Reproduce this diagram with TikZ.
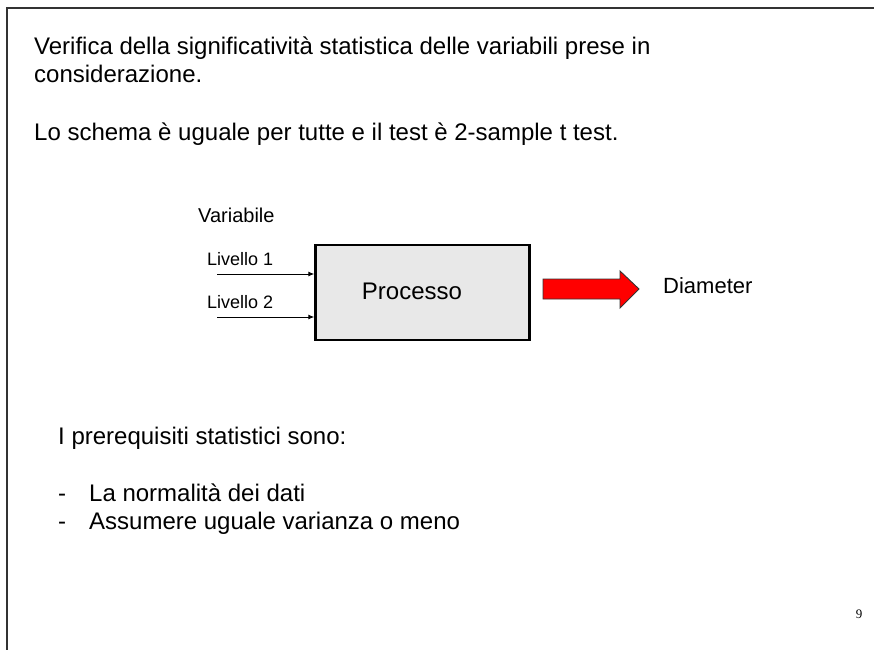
\documentclass[tikz,border=0pt]{standalone}
\usepackage{fontspec}
\setmainfont{Liberation Sans}
\newfontfamily\numfont{Liberation Serif}
\usetikzlibrary{arrows.meta}
\begin{document}
\begin{tikzpicture}[x=1pt,y=-1pt,
  txt/.style={anchor=base west,inner sep=0pt,font=\fontsize{24}{28}\selectfont},
  small/.style={anchor=base west,inner sep=0pt,font=\fontsize{18}{21}\selectfont},
  inarrow/.style={-{Latex[length=6pt,width=5pt]},line width=1pt},
  framel/.style={line width=1.8pt,draw=black!80}]
\useasboundingbox (0,0) rectangle (874,650);
\coordinate (tl) at (7,8);
\coordinate (tr) at (874,8);
\coordinate (bl) at (7,650);
\draw[framel] (tr) -- (tl) -- (bl);
\node[txt] (t1) at (34,55) {Verifica della significatività statistica delle variabili prese in};
\node[txt] (t2) at (34,83) {considerazione.};
\node[txt] (t3) at (34,140) {Lo schema è uguale per tutte e il test è 2-sample t test.};
\node[anchor=base west,inner sep=0pt,font=\fontsize{20}{24}\selectfont] (var) at (198,222) {Variabile};
\node[draw=black,line width=2.4pt,fill=black!9,minimum width=214pt,minimum height=95pt,inner sep=0pt] (proc) at (422.5,292.5) {};
\node[anchor=base,inner sep=0pt,font=\fontsize{24}{28}\selectfont] (ptxt) at (412,299) {Processo};
\node[small] (l1) at (207,265) {Livello 1};
\node[small] (l2) at (207,308) {Livello 2};
\coordinate (a1) at (217,274);
\coordinate (a2) at (217,317);
\draw[inarrow] (a1) -- (a1 -| proc.west);
\draw[inarrow] (a2) -- (a2 -| proc.west);
\coordinate (r1) at (543,279);
\coordinate (r2) at (620,279);
\coordinate (r3) at (620,271);
\coordinate (r4) at (639,289);
\coordinate (r5) at (620,308);
\coordinate (r6) at (620,299);
\coordinate (r7) at (543,299);
\draw[draw=black!80,line width=0.9pt,fill=red] (r1) -- (r2) -- (r3) -- (r4) -- (r5) -- (r6) -- (r7) -- cycle;
\node[anchor=base west,inner sep=0pt,font=\fontsize{22}{26}\selectfont] (diam) at (663,293) {Diameter};
\node[txt] (p1) at (58,444) {I prerequisiti statistici sono:};
\node[txt] (d1) at (58,501) {-};
\node[txt] (b1) at (89,501) {La normalità dei dati};
\node[txt] (d2) at (58,529) {-};
\node[txt] (b2) at (89,529) {Assumere uguale varianza o meno};
\node[anchor=base,inner sep=0pt,font=\numfont\fontsize{13}{15}\selectfont] (pg) at (859,618) {9};
\end{tikzpicture}
\end{document}
